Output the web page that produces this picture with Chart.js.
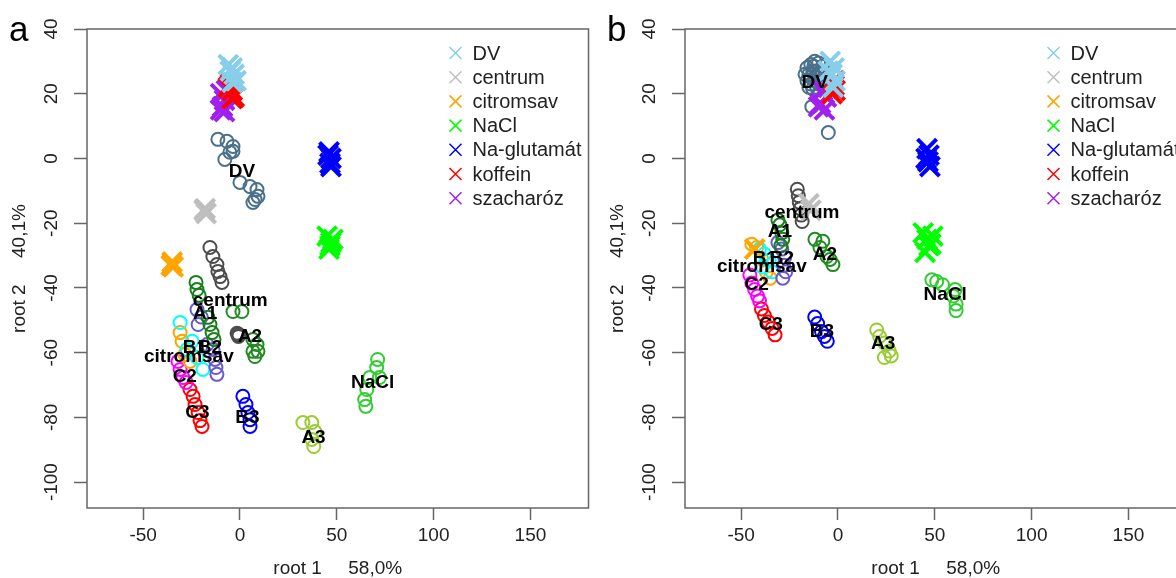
<!DOCTYPE html>
<html>
<head>
<meta charset="utf-8">
<script src="https://cdn.jsdelivr.net/npm/chart.js@4.4.1/dist/chart.umd.min.js"></script>
<style>
  body { margin: 0; width: 1176px; height: 578px; overflow: hidden; background: #fff; position: relative; }
  .panel { position: absolute; top: 0; width: 606px; height: 578px; }
  #wrapA { left: 0; }
  #wrapB { left: 598px; }
</style>
</head>
<body>
<div class="panel" id="wrapA"><canvas id="chartA" width="606" height="578"></canvas></div>
<div class="panel" id="wrapB"><canvas id="chartB" width="606" height="578"></canvas></div>
<script>
// axes (same for both panels)
const xTicks = [-50, 0, 50, 100, 150];
const yTicks = [-100, -80, -60, -40, -20, 0, 20, 40];
const xRange = [-79, 180];
const yRange = [-108, 40];

// taste substances (X marks) + legend
const tasteNames = ['DV', 'centrum', 'citromsav', 'NaCl', 'Na-glutamát', 'koffein', 'szacharóz'];
const tasteColors = ['#87CEEB', '#BEBEBE', '#FFA500', '#00FF00', '#0000FF', '#FF0000', '#A020F0'];

// sample groups (circles)
const groupNames = ['DV', 'centrum', 'A1', 'A2', 'A3', 'B1', 'B2', 'B3', 'C1', 'citromsav', 'C2', 'C3', 'NaCl'];
const groupColors = ['#4A708B', '#4D4D4D', '#17801A', '#228B22', '#9ACD32', '#6A5ACD', '#6A5ACD', '#0000FF',
  '#00FFFF', '#FFA500', '#FF00FF', '#FF0000', '#32CD32'];

// ---- panel a ----
const aXDV = [[-6, 29], [-4, 28], [-3, 26], [-5, 27], [-2, 24], [-4, 23.5]];
const aXcentrum = [[-18, -15.5], [-17.5, -17], [-18.5, -16]];
const aXcitromsav = [[-35, -32], [-34.5, -33.5], [-35.5, -33]];
const aXNaCl = [[45, -24], [47, -26], [46, -28], [48, -25], [46.5, -27]];
const aXglutamat = [[46, 2], [47, 0], [46.5, -1.5], [45.5, 1], [47, -2.5]];
const aXkoffein = [[-5, 23], [-4, 21], [-3, 19], [-6, 22], [-4, 18.5]];
const aXszacharoz = [[-10, 20], [-8, 18], [-9, 16], [-7, 21], [-10, 15], [-8, 14.5]];

const aDV = [[-11.4, 5.9], [-6.7, 5.3], [-3.6, 3.7], [-5.2, 1.9], [-3.6, 2.2], [-7.8, -0.3],
  [0, -7.4], [5.2, -8.7], [8.8, -9.6], [9.3, -11.7], [7.8, -12.7], [6.7, -13.6]];
const aCentrum = [[-15.5, -27.5], [-14, -30.3], [-11.9, -32.8], [-11.4, -34.9], [-10.3, -36.5], [-9.3, -38.3],
  [-1.5, -54], [-0.8, -55], [-1, -54.2], [-0.5, -54.6]];
const aA1 = [[-22.7, -38.3], [-22.2, -40.5], [-21.1, -42.3], [-16.5, -49.1], [-15.5, -51.3], [-14.4, -53.8], [-13.4, -55.9]];
const aA2 = [[-3.6, -47.3], [1, -47.3], [6.7, -55.9], [8.8, -57.5], [6.7, -59.6], [9.3, -59.6], [7.7, -61.2]];
const aA3 = [[32.5, -81.6], [37.1, -81.6], [38.7, -84.4], [37.1, -86.8], [38.1, -89]];
const aB1 = [[-22.2, -46.7], [-21.6, -51.3], [-20, -49]];
const aB2 = [[-17, -57.5], [-13.9, -59], [-12.9, -62.1], [-12.4, -64.6], [-11.9, -66.7]];
const aB3 = [[1.5, -73.5], [3.1, -76], [4.1, -78.5], [5.2, -80.7], [5.2, -82.8]];
const aC1 = [[-30.9, -50.7], [-24.7, -56.5], [-27.3, -59], [-22.2, -61.5], [-19.1, -65.2]];
const aCitromsav = [[-30.9, -53.8], [-29.9, -56.5], [-28.4, -60.6], [-25.8, -62.7]];
const aC2 = [[-32, -62.7], [-30.9, -65.2], [-29.4, -67.7], [-27.8, -69.2]];
const aC3 = [[-25.8, -71.4], [-24.2, -73.5], [-23.2, -76], [-21.6, -78.5], [-20.6, -81], [-19.6, -82.8]];
const aNaCl = [[71.1, -62.1], [70.6, -64.6], [67, -67.7], [72, -67.7], [65.5, -71.4], [64.4, -74.5], [65, -76.6]];

const aLabelText = ['DV', 'centrum', 'A1', 'A2', 'A3', 'B1', 'B2', 'B3', 'citromsav', 'C2', 'C3', 'NaCl'];
const aLabelX = [1, -5, -18, 5.2, 38, -23.3, -15.5, 3.9, -26.4, -28.5, -22, 68.5];
const aLabelY = [-4, -44, -47.9, -55, -86.2, -58.4, -58.4, -80, -61.2, -67.4, -78.5, -69.2];

// ---- panel b ----
const bXDV = [[-4, 30], [-2, 28], [-3, 26], [-1.5, 24], [-5, 27], [-2.5, 22]];
const bXcentrum = [[-15, -14], [-14, -16]];
const bXcitromsav = [[-43, -28]];
const bXNaCl = [[44, -23], [46, -25], [47, -27], [45, -29], [49, -24], [48, -26.5]];
const bXglutamat = [[46, 3], [47, 1], [46.5, -1], [47.5, -2.5], [45.5, 0]];
const bXkoffein = [[-2, 24], [-1.5, 21], [-3, 20], [-2, 22.5]];
const bXszacharoz = [[-8, 21], [-6, 19], [-9, 17], [-7, 15], [-10, 16], [-5, 22]];

const bDV = [[-16, 28], [-14, 29], [-12, 30], [-10, 29.5], [-8, 28.5], [-15, 26], [-13, 27], [-11, 27], [-9, 26],
  [-16, 24], [-14, 25], [-12, 24], [-10, 23], [-15, 22], [-13, 21.5], [-11, 22], [-9, 24], [-13.5, 16], [-5, 8],
  [-17, 26], [-12.5, 28.5], [-10.5, 25], [-14, 23]];
const bCentrum = [[-21, -9.5], [-20.5, -11.5], [-20, -13.5], [-19.5, -15.5], [-19, -17.5], [-18.5, -19.5]];
const bA1 = [[-31, -19], [-30, -20.5], [-29, -23], [-28.5, -25], [-29.5, -27]];
const bA2 = [[-11.9, -25], [-7.8, -25.6], [-9.3, -27.5], [-5.7, -30.3], [-4.1, -31.2], [-2.6, -32.8]];
const bA3 = [[20, -53], [21.5, -55], [24, -57], [26.5, -59.5], [24, -61.5], [27.5, -61]];
const bB1 = [[-31, -26], [-29, -28]];
const bB2 = [[-27.5, -30.5], [-28, -33], [-27, -35], [-28.5, -37]];
const bB3 = [[-12, -49], [-10.5, -51], [-8.5, -53.5], [-7, -55], [-5.5, -56.5]];
const bC1 = [[-40.5, -28], [-38, -29.5], [-35.5, -31.5], [-39, -33.5], [-34, -35]];
const bCitromsav = [[-44.5, -26.5], [-42, -27.5], [-39.5, -31], [-37, -35], [-35, -37]];
const bC2 = [[-45.5, -36], [-44.5, -38.5], [-43, -40.5], [-41.5, -42.5], [-40.5, -44]];
const bC3 = [[-39.5, -46.5], [-38, -48.5], [-36, -50.5], [-34, -52.5], [-32.5, -54.5]];
const bNaCl = [[48.5, -37.5], [51, -38], [54, -39], [60.5, -40.5], [59.5, -42.5], [61, -45], [61, -47]];

const bLabelText = ['DV', 'centrum', 'A1', 'A2', 'A3', 'B1', 'B2', 'B3', 'citromsav', 'C2', 'C3', 'NaCl'];
const bLabelX = [-12, -18.6, -30, -6.7, 23.3, -37.8, -29, -8.3, -39.3, -42, -34.7, 55.4];
const bLabelY = [23.5, -16.7, -22.6, -29.7, -57.2, -31, -31, -53.5, -33.4, -39, -51.3, -42];

const FONT = "'Liberation Sans', Arial, sans-serif";
const toXY = pts => pts.map(p => ({x: p[0], y: p[1]}));

function circleSet(pts, color) {
  return {data: toXY(pts), pointStyle: 'circle', pointRadius: 6.5, borderWidth: 2,
          borderColor: color, backgroundColor: 'rgba(0,0,0,0)'};
}
function crossSet(pts, color) {
  return {data: toXY(pts), pointStyle: 'crossRot', pointRadius: 13.5, borderWidth: 4,
          borderColor: color, backgroundColor: color};
}

// box, legend, group labels, panel letter
const annotations = {
  id: 'annotations',
  afterDatasetsDraw(chart, args, opts) {
    const {ctx, chartArea: ca, scales} = chart;
    ctx.save();
    ctx.strokeStyle = '#666';
    ctx.lineWidth = 1.5;
    ctx.strokeRect(ca.left, ca.top, ca.right - ca.left, ca.bottom - ca.top);

    // group labels at data positions
    ctx.fillStyle = '#000';
    ctx.font = 'bold 19px ' + FONT;
    ctx.textAlign = 'center';
    ctx.textBaseline = 'middle';
    opts.labels.forEach((t, i) => {
      ctx.fillText(t, scales.x.getPixelForValue(opts.lx[i]), scales.y.getPixelForValue(opts.ly[i]));
    });

    // legend
    ctx.font = '20px ' + FONT;
    ctx.textAlign = 'left';
    tasteNames.forEach((t, i) => {
      const y = ca.top + 24 + i * 24.2;
      const x = ca.right - 133;
      ctx.strokeStyle = tasteColors[i];
      ctx.lineWidth = 1.5;
      ctx.beginPath();
      ctx.moveTo(x - 6, y - 6); ctx.lineTo(x + 6, y + 6);
      ctx.moveTo(x - 6, y + 6); ctx.lineTo(x + 6, y - 6);
      ctx.stroke();
      ctx.fillStyle = '#222';
      ctx.fillText(t, ca.right - 116, y + 1);
    });

    // panel letter
    ctx.font = '35px ' + FONT;
    ctx.fillStyle = '#000';
    ctx.textBaseline = 'alphabetic';
    ctx.fillText(opts.letter, 9, 41);
    ctx.restore();
  }
};

function makeChart(id, letter, crosses, circles, labels, lx, ly) {
  const datasets = [];
  crosses.forEach((pts, i) => datasets.push(crossSet(pts, tasteColors[i])));
  circles.forEach((pts, i) => datasets.push(circleSet(pts, groupColors[i])));
  return new Chart(document.getElementById(id), {
    type: 'scatter',
    data: {datasets},
    options: {
      responsive: false,
      animation: false,
      events: [],
      layout: {padding: {left: 0, right: 10, top: 29, bottom: 0}},
      plugins: {
        legend: {display: false},
        tooltip: {enabled: false},
        annotations: {letter, labels, lx, ly}
      },
      scales: {
        x: {
          type: 'linear', min: xRange[0], max: xRange[1],
          afterBuildTicks: s => { s.ticks = xTicks.map(v => ({value: v})); },
          afterFit: s => { s.height = 70; s.paddingLeft = 0; s.paddingRight = 0; },
          border: {display: false},
          grid: {drawOnChartArea: false, drawTicks: true, tickLength: 12, tickColor: '#666', tickWidth: 1.5},
          ticks: {color: '#222', font: {family: FONT, size: 19}, padding: 4, maxRotation: 0},
          title: {display: true, text: 'root 1     58,0%', color: '#222',
                  font: {family: FONT, size: 19, lineHeight: 1}, padding: {top: 0, bottom: 0}}
        },
        y: {
          type: 'linear', min: yRange[0], max: yRange[1],
          afterBuildTicks: s => { s.ticks = yTicks.map(v => ({value: v})); },
          afterFit: s => { s.width = 87; s.paddingTop = 0; s.paddingBottom = 0; },
          border: {display: false},
          grid: {drawOnChartArea: false, drawTicks: true, tickLength: 13, tickColor: '#666', tickWidth: 1.5},
          ticks: {color: '#222', font: {family: FONT, size: 19}, padding: 3, minRotation: 90, maxRotation: 90,
                  crossAlign: 'center'},
          title: {display: true, text: 'root 2     40,1%', color: '#222',
                  font: {family: FONT, size: 19, lineHeight: 1}, padding: {top: 10, bottom: 0}}
        }
      }
    },
    plugins: [annotations]
  });
}

makeChart('chartA', 'a',
  [aXDV, aXcentrum, aXcitromsav, aXNaCl, aXglutamat, aXkoffein, aXszacharoz],
  [aDV, aCentrum, aA1, aA2, aA3, aB1, aB2, aB3, aC1, aCitromsav, aC2, aC3, aNaCl],
  aLabelText, aLabelX, aLabelY);

makeChart('chartB', 'b',
  [bXDV, bXcentrum, bXcitromsav, bXNaCl, bXglutamat, bXkoffein, bXszacharoz],
  [bDV, bCentrum, bA1, bA2, bA3, bB1, bB2, bB3, bC1, bCitromsav, bC2, bC3, bNaCl],
  bLabelText, bLabelX, bLabelY);
</script>
</body>
</html>
